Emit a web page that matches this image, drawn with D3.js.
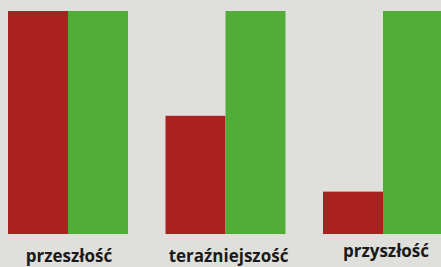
<!DOCTYPE html>
<html>
<head>
<meta charset="utf-8">
<script src="https://cdn.jsdelivr.net/npm/d3@7"></script>
<style>
  html, body { margin: 0; padding: 0; background: #dfe0dc; }
  svg { display: block; }
</style>
</head>
<body>
<svg id="chart" width="441" height="267"></svg>
<script>
// kategorie i wartości (w %)
var categories = ["przeszłość", "teraźniejszość", "przyszłość"];
var seriesKeys = ["czerwony", "zielony"];
var redValues = [100, 53, 19];
var greenValues = [100, 100, 100];

var colors = ["#ab2120", "#52ad38"];

var svg = d3.select("#chart");
var W = 441, H = 267;

// tło
svg.append("rect")
    .attr("width", W)
    .attr("height", H)
    .attr("fill", "#dfe0dc");

var x0 = d3.scaleBand()
    .domain(categories)
    .range([8, 443])
    .paddingInner(0.238)
    .paddingOuter(0);

var x1 = d3.scaleBand()
    .domain(seriesKeys)
    .range([0, x0.bandwidth()])
    .padding(0);

var y = d3.scaleLinear()
    .domain([0, 100])
    .range([234, 11]);

var rows = categories.map(function (c, i) {
    return {cat: c, values: [redValues[i], greenValues[i]]};
});

var groups = svg.selectAll("g.grupa")
    .data(rows)
    .enter()
    .append("g")
    .attr("class", "grupa")
    .attr("transform", function (d) {
        return "translate(" + x0(d.cat) + ",0)";
    });

groups.selectAll("rect")
    .data(function (d) {
        return d.values.map(function (v, j) {
            return {key: seriesKeys[j], value: v, idx: j};
        });
    })
    .enter()
    .append("rect")
    .attr("x", function (d) { return x1(d.key); })
    .attr("y", function (d) { return y(d.value); })
    .attr("width", x1.bandwidth())
    .attr("height", function (d) { return y(0) - y(d.value); })
    .attr("fill", function (d) { return colors[d.idx]; });

// podpisy osi (linia bazowa tekstu)
var labelShift = [[1, 0], [3, 0], [3, -5]];
var xAxis = d3.axisBottom(x0).tickSize(0).tickPadding(0);
var axisG = svg.append("g")
    .attr("transform", "translate(0,262)")
    .call(xAxis);
axisG.select(".domain").remove();
axisG.selectAll("text")
    .attr("y", 0)
    .attr("dy", 0)
    .attr("font-family", "'Open Sans', 'DejaVu Sans', sans-serif")
    .attr("font-weight", "bold")
    .attr("font-size", 17)
    .attr("fill", "#1a1a1a")
    .attr("transform", function (d, i) {
        return "translate(" + labelShift[i][0] + "," + labelShift[i][1] + ")";
    });
</script>
</body>
</html>
